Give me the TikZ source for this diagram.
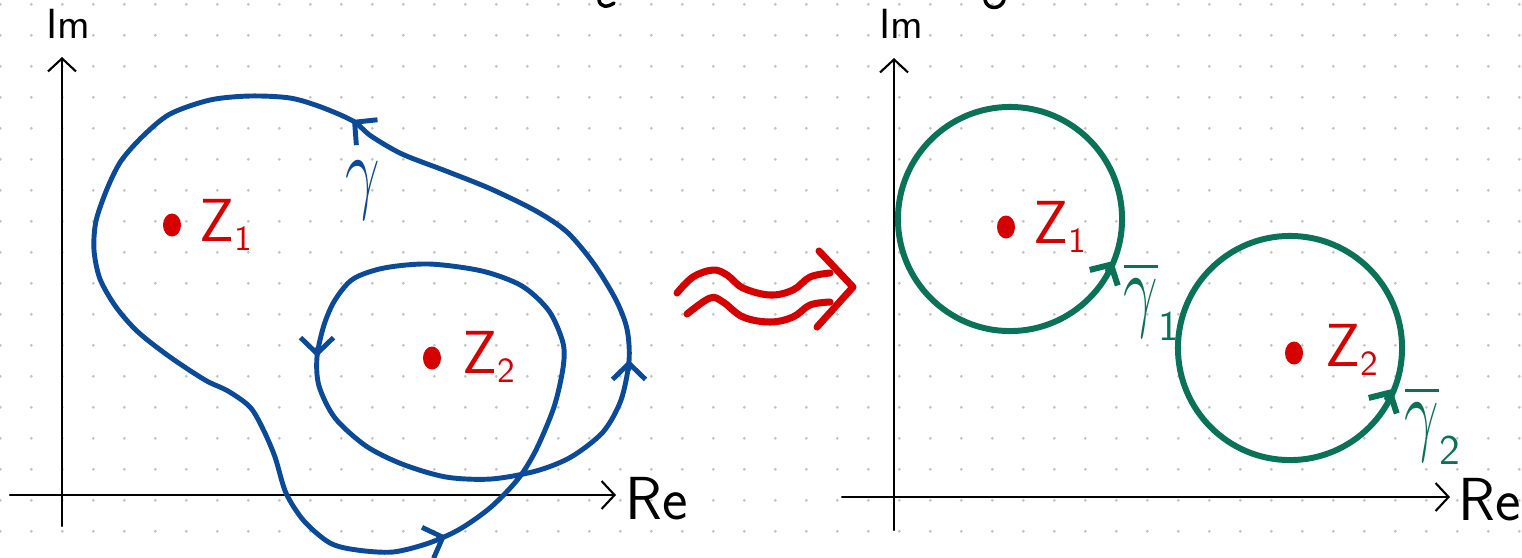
\documentclass[tikz,border=0pt]{standalone}
\usepackage{amsmath}
\usepackage{xcolor}
\definecolor{cplxBlue}{HTML}{0B4A98}
\definecolor{cplxGreen}{HTML}{0A7357}
\definecolor{cplxRed}{HTML}{D50000}
\definecolor{cplxGrid}{HTML}{C4C4C4}
\usepackage{tikz}
\usetikzlibrary{arrows.meta,calc,positioning,shapes.geometric}

\newcommand{\zsub}[1]{\hbox{\normalsize\sffamily #1}}
\newcommand{\gsub}[1]{\hbox{\large\sffamily #1}}
\newcommand{\hgamma}{\scalebox{0.7}[1.07]{$\gamma$}}

\begin{document}
\begin{tikzpicture}[x={(0.01cm,0)},y={(0,-0.01cm)},line cap=round,line join=round]
  \tikzset{
    axisline/.style={black,line width=0.6pt,-{Straight Barb[length=1.3mm,width=2.8mm]}},
    axislabel/.style={inner sep=0pt,font=\LARGE\sffamily},
    imlabel/.style={inner sep=0pt,font=\large\sffamily},
    gammacurve/.style={cplxBlue,line width=1.4pt},
    gammatip/.style={cplxBlue,line width=1.4pt,-{Straight Barb[length=1.6mm,width=3.3mm]}},
    circcurve/.style={cplxGreen,line width=1.7pt},
    circtip/.style={cplxGreen,line width=1.7pt,-{Straight Barb[length=1.5mm,width=3.2mm]}},
    zdot/.style={cplxRed,fill=cplxRed,ellipse,inner sep=0pt,minimum width=0.18cm,minimum height=0.23cm},
    zlabel/.style={cplxRed,inner sep=0pt,anchor=base west,font=\LARGE},
    gammalabel/.style={inner sep=0pt,anchor=base west,font=\Huge},
    squiggle/.style={cplxRed,line width=2pt}
  }
  \path[use as bounding box] (0,0) rectangle (1522,557);

  \foreach \gx in {0,...,49}
    \foreach \gy in {0,...,17}
      \fill[cplxGrid] (0.3+31*\gx,4.3+31*\gy) circle[radius=0.16mm];

  % cut-off strokes at the top edge
  \draw[black,line width=1pt] (599,0) .. controls (600,7) and (607,8) .. (614,3);
  \draw[black,line width=1pt] (985,0) .. controls (987,10) and (1001,10) .. (1004,0);

  % left plane
  \coordinate (reL0) at (10,495);
  \coordinate (reL1) at (616,495);
  \coordinate (imL0) at (62,526);
  \coordinate (imL1) at (62,57);
  \draw[axisline] (reL0) -- (reL1);
  \draw[axisline] (imL0) -- (imL1);
  \node[imlabel] (imLlab) at (68,24) {Im};
  \node[axislabel] (reLlab) at (657,499) {Re};

  \draw[gammacurve] plot[smooth cycle,tension=0.5] coordinates {
    (170,114) (143,136) (121,161) (107,189) (96,221) (94,250) (100,279) (116,307)
    (138,332) (170,357) (205,380) (228,391) (250,407) (263,429) (275,457) (286,493)
    (304,521) (330,543) (357,550) (393,552) (429,543) (460,529) (491,507) (518,479)
    (536,450) (554,407) (563,368) (563,343) (549,311) (522,286) (482,271) (429,264)
    (384,268) (353,279) (335,300) (324,325) (317,357) (319,386) (335,418) (366,446)
    (402,464) (446,477) (491,479) (536,471) (571,457) (603,432) (621,400) (629,361)
    (627,329) (616,300) (594,264) (567,232) (536,211) (491,189) (446,171) (402,154)
    (371,136) (353,121) (321,107) (290,98) (250,96) (210,100)};
  \draw[gammatip] (438,539) -- (446,536);
  \draw[gammatip] (317,349) -- (317,357);
  \draw[gammatip] (629,369) -- (629,360);
  \draw[gammatip] (358,125) -- (352,120);
  \node[gammalabel,cplxBlue] (gammaLab) at (345,201) {$\hgamma$};

  \node[zdot] (z1L) at (172,225) {};
  \node[zdot] (z2L) at (432,358) {};
  \node[zlabel] (z1Llab) at (199,241) {$\mathsf{Z}_{\zsub{1}}$};
  \node[zlabel] (z2Llab) at (462,373) {$\mathsf{Z}_{\zsub{2}}$};

  % squiggly arrow
  \draw[squiggle] plot[smooth,tension=0.6] coordinates {
    (677,293) (693,277) (713,270) (727,275) (743,288) (770,295) (793,290) (810,277) (830,273)};
  \draw[squiggle] plot[smooth,tension=0.6] coordinates {
    (687,314) (710,298) (723,302) (743,317) (770,322) (793,317) (810,305) (830,302)};
  \draw[squiggle] (819,251) -- (853,287) -- (817,327);

  % right plane
  \coordinate (reR0) at (842,497);
  \coordinate (reR1) at (1450,497);
  \coordinate (imR0) at (894,530);
  \coordinate (imR1) at (894,58);
  \draw[axisline] (reR0) -- (reR1);
  \draw[axisline] (imR0) -- (imR1);
  \node[imlabel] (imRlab) at (901,24) {Im};
  \node[axislabel] (reRlab) at (1490,500) {Re};

  \coordinate (c1) at (1010,219);
  \coordinate (c2) at (1290,348);
  \draw[circcurve] (c1) circle[radius=1.12cm];
  \draw[circcurve] (c2) circle[radius=1.12cm];
  \draw[circtip] (1108,270) -- (1113,261);
  \draw[circtip] (1387,398) -- (1392,389);

  \node[zdot] (z1R) at (1006,227) {};
  \node[zdot] (z2R) at (1294,353) {};
  \node[zlabel] (z1Rlab) at (1033,243) {$\mathsf{Z}_{\zsub{1}}$};
  \node[zlabel] (z2Rlab) at (1325,366) {$\mathsf{Z}_{\zsub{2}}$};
  \node[gammalabel,cplxGreen] (gam1Lab) at (1123,319) {$\overline{\hgamma}_{\gsub{1}}$};
  \node[gammalabel,cplxGreen] (gam2Lab) at (1404,443) {$\overline{\hgamma}_{\gsub{2}}$};
\end{tikzpicture}
\end{document}
